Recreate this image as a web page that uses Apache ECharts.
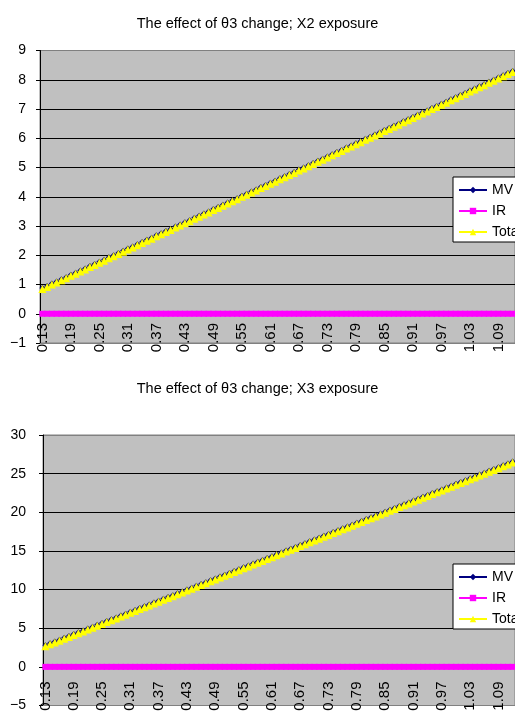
<!DOCTYPE html>
<html>
<head>
<meta charset="utf-8">
<script src="https://cdn.jsdelivr.net/npm/echarts@6/dist/echarts.min.js"></script>
<style>
html,body{margin:0;padding:0;background:#fff;}
#c{width:515px;height:718px;}
</style>
</head>
<body>
<div id="c"></div>
<script>
const categories = ['0.13','0.14','0.15','0.16','0.17','0.18','0.19','0.20','0.21','0.22','0.23','0.24','0.25','0.26','0.27','0.28','0.29','0.30','0.31','0.32','0.33','0.34','0.35','0.36','0.37','0.38','0.39','0.40','0.41','0.42','0.43','0.44','0.45','0.46','0.47','0.48','0.49','0.50','0.51','0.52','0.53','0.54','0.55','0.56','0.57','0.58','0.59','0.60','0.61','0.62','0.63','0.64','0.65','0.66','0.67','0.68','0.69','0.70','0.71','0.72','0.73','0.74','0.75','0.76','0.77','0.78','0.79','0.80','0.81','0.82','0.83','0.84','0.85','0.86','0.87','0.88','0.89','0.90','0.91','0.92','0.93','0.94','0.95','0.96','0.97','0.98','0.99','1.00','1.01','1.02','1.03','1.04','1.05','1.06','1.07','1.08','1.09','1.10','1.11','1.12'];

const titleX2 = 'The effect of θ3 change; X2 exposure';
const titleX3 = 'The effect of θ3 change; X3 exposure';
const seriesNames = ['MV', 'IR', 'Total'];

const mvX2 = [0.88,0.95,1.03,1.10,1.18,1.25,1.33,1.40,1.48,1.55,1.63,1.70,1.78,1.85,1.93,2.00,2.08,2.15,2.23,2.30,2.38,2.45,2.53,2.60,2.68,2.75,2.83,2.90,2.98,3.05,3.13,3.20,3.28,3.35,3.43,3.50,3.58,3.65,3.73,3.80,3.88,3.95,4.03,4.10,4.18,4.25,4.33,4.40,4.48,4.55,4.63,4.70,4.78,4.85,4.93,5.00,5.08,5.15,5.23,5.30,5.38,5.45,5.53,5.60,5.68,5.75,5.83,5.90,5.98,6.05,6.13,6.20,6.28,6.35,6.43,6.50,6.58,6.65,6.73,6.80,6.88,6.95,7.03,7.10,7.18,7.25,7.33,7.40,7.48,7.55,7.63,7.70,7.78,7.85,7.93,8.00,8.08,8.15,8.23,8.30];
const irX2 = [0,0,0,0,0,0,0,0,0,0,0,0,0,0,0,0,0,0,0,0,0,0,0,0,0,0,0,0,0,0,0,0,0,0,0,0,0,0,0,0,0,0,0,0,0,0,0,0,0,0,0,0,0,0,0,0,0,0,0,0,0,0,0,0,0,0,0,0,0,0,0,0,0,0,0,0,0,0,0,0,0,0,0,0,0,0,0,0,0,0,0,0,0,0,0,0,0,0,0,0];
const totalX2 = [0.88,0.95,1.03,1.10,1.18,1.25,1.33,1.40,1.48,1.55,1.63,1.70,1.78,1.85,1.93,2.00,2.08,2.15,2.23,2.30,2.38,2.45,2.53,2.60,2.68,2.75,2.83,2.90,2.98,3.05,3.13,3.20,3.28,3.35,3.43,3.50,3.58,3.65,3.73,3.80,3.88,3.95,4.03,4.10,4.18,4.25,4.33,4.40,4.48,4.55,4.63,4.70,4.78,4.85,4.93,5.00,5.08,5.15,5.23,5.30,5.38,5.45,5.53,5.60,5.68,5.75,5.83,5.90,5.98,6.05,6.13,6.20,6.28,6.35,6.43,6.50,6.58,6.65,6.73,6.80,6.88,6.95,7.03,7.10,7.18,7.25,7.33,7.40,7.48,7.55,7.63,7.70,7.78,7.85,7.93,8.00,8.08,8.15,8.23,8.30];

const mvX3 = [2.80,3.04,3.28,3.52,3.76,4.00,4.24,4.48,4.72,4.96,5.20,5.44,5.68,5.92,6.16,6.40,6.64,6.88,7.12,7.36,7.60,7.84,8.08,8.32,8.56,8.80,9.04,9.28,9.52,9.76,10.00,10.24,10.48,10.72,10.96,11.20,11.44,11.68,11.92,12.16,12.40,12.64,12.88,13.12,13.36,13.60,13.84,14.08,14.32,14.56,14.80,15.04,15.28,15.52,15.76,16.00,16.24,16.48,16.72,16.96,17.20,17.44,17.68,17.92,18.16,18.40,18.64,18.88,19.12,19.36,19.60,19.84,20.08,20.32,20.56,20.80,21.04,21.28,21.52,21.76,22.00,22.24,22.48,22.72,22.96,23.20,23.44,23.68,23.92,24.16,24.40,24.64,24.88,25.12,25.36,25.60,25.84,26.08,26.32,26.56];
const irX3 = [0,0,0,0,0,0,0,0,0,0,0,0,0,0,0,0,0,0,0,0,0,0,0,0,0,0,0,0,0,0,0,0,0,0,0,0,0,0,0,0,0,0,0,0,0,0,0,0,0,0,0,0,0,0,0,0,0,0,0,0,0,0,0,0,0,0,0,0,0,0,0,0,0,0,0,0,0,0,0,0,0,0,0,0,0,0,0,0,0,0,0,0,0,0,0,0,0,0,0,0];
const totalX3 = [2.80,3.04,3.28,3.52,3.76,4.00,4.24,4.48,4.72,4.96,5.20,5.44,5.68,5.92,6.16,6.40,6.64,6.88,7.12,7.36,7.60,7.84,8.08,8.32,8.56,8.80,9.04,9.28,9.52,9.76,10.00,10.24,10.48,10.72,10.96,11.20,11.44,11.68,11.92,12.16,12.40,12.64,12.88,13.12,13.36,13.60,13.84,14.08,14.32,14.56,14.80,15.04,15.28,15.52,15.76,16.00,16.24,16.48,16.72,16.96,17.20,17.44,17.68,17.92,18.16,18.40,18.64,18.88,19.12,19.36,19.60,19.84,20.08,20.32,20.56,20.80,21.04,21.28,21.52,21.76,22.00,22.24,22.48,22.72,22.96,23.20,23.44,23.68,23.92,24.16,24.40,24.64,24.88,25.12,25.36,25.60,25.84,26.08,26.32,26.56];

const FONT = '"Liberation Sans", Arial, sans-serif';

function minusFmt(v) { return String(v).replace('-', '\u2212'); }

function xAxisDef(gridIndex, margin) {
  return {
    type: 'category', gridIndex: gridIndex, data: categories, boundaryGap: true, position: 'bottom',
    axisLine: { show: true, onZero: false, lineStyle: { color: '#808080', width: 1 } },
    axisTick: { show: false },
    axisLabel: { interval: 5, rotate: 90, margin: margin, fontSize: 15, color: '#000', fontFamily: FONT },
    splitLine: { show: false }
  };
}
function yAxisDef(gridIndex, min, max, interval, margin, nLines) {
  const cols = [];
  for (let i = 0; i < nLines; i++) cols.push(i === 0 || i === nLines - 1 ? '#808080' : '#000');
  return {
    type: 'value', gridIndex: gridIndex, min: min, max: max, interval: interval,
    axisLine: { show: true, lineStyle: { color: '#000', width: 1 } },
    axisTick: { show: true, length: 4, inside: false, lineStyle: { color: '#000' } },
    axisLabel: { margin: margin, fontSize: 14, color: '#000', fontFamily: FONT, formatter: minusFmt },
    splitLine: { show: true, lineStyle: { color: cols, width: 1 } }
  };
}
function seriesDefs(axisIdx, mv, ir, total) {
  const common = { type: 'line', xAxisIndex: axisIdx, yAxisIndex: axisIdx, showAllSymbol: true, animation: false };
  return [
    Object.assign({}, common, { name: seriesNames[0], data: mv, symbol: 'diamond', symbolSize: 6, itemStyle: { color: '#000080' }, lineStyle: { width: 1, color: '#000080' } }),
    Object.assign({}, common, { name: seriesNames[1], data: ir, symbol: 'rect', symbolSize: 6, itemStyle: { color: '#FF00FF' }, lineStyle: { width: 1, color: '#FF00FF' } }),
    Object.assign({}, common, { name: seriesNames[2], data: total, symbol: 'triangle', symbolSize: 8, symbolOffset: [0, 1], itemStyle: { color: '#FFFF00' }, lineStyle: { width: 2, color: '#FFFF00' } })
  ];
}
function legendDef(top) {
  return {
    data: seriesNames, orient: 'vertical', left: 453, top: top,
    backgroundColor: '#fff', borderColor: '#000', borderWidth: 1,
    padding: [6, 5, 3, 5], itemGap: 7, itemWidth: 28, itemHeight: 8,
    textStyle: { fontSize: 14, color: '#000', fontFamily: FONT, lineHeight: 14 },
    selectedMode: false
  };
}

const chart = echarts.init(document.getElementById('c'), null, { renderer: 'canvas' });
chart.setOption({
  animation: false,
  backgroundColor: '#fff',
  title: [
    { text: titleX2, left: 'center', top: 11, textStyle: { fontSize: 14.5, fontWeight: 'normal', color: '#000', fontFamily: FONT } },
    { text: titleX3, left: 'center', top: 376, textStyle: { fontSize: 14.5, fontWeight: 'normal', color: '#000', fontFamily: FONT } }
  ],
  legend: [legendDef(177), legendDef(564)],
  grid: [
    { left: 40, top: 50.5, height: 292.5, width: 486, show: true, backgroundColor: '#C0C0C0', borderColor: '#808080', borderWidth: 1, containLabel: false },
    { left: 43, top: 435, height: 270.5, width: 485, show: true, backgroundColor: '#C0C0C0', borderColor: '#808080', borderWidth: 1, containLabel: false }
  ],
  xAxis: [xAxisDef(0, -20), xAxisDef(1, -24)],
  yAxis: [yAxisDef(0, -1, 9, 1, 14, 11), yAxisDef(1, -5, 30, 5, 17, 8)],
  series: seriesDefs(0, mvX2, irX2, totalX2).concat(seriesDefs(1, mvX3, irX3, totalX3))
});
</script>
</body>
</html>
